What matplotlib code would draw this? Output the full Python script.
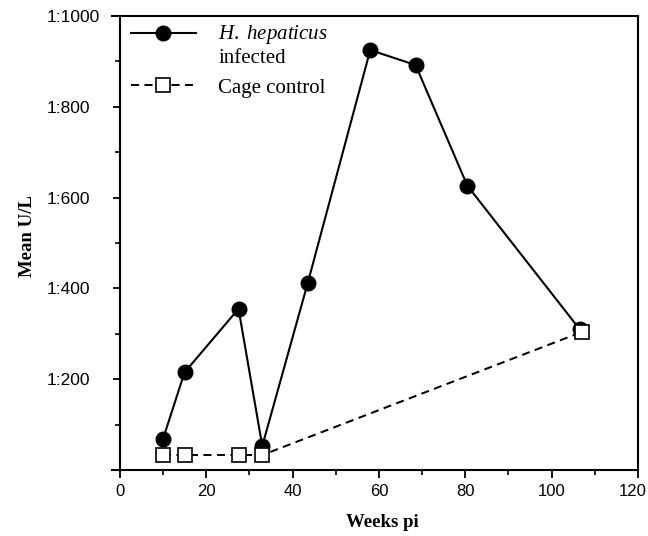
"""
Mean U/L over weeks post infection: H. hepaticus infected vs cage control
"""
import matplotlib
matplotlib.use('Agg')
import matplotlib.pyplot as plt
import matplotlib.transforms as mtransforms
import numpy as np
from matplotlib.ticker import FixedLocator
from matplotlib.legend_handler import HandlerLine2D

plt.rcParams['font.family'] = ['Liberation Sans', 'DejaVu Sans']
plt.rcParams['mathtext.fontset'] = 'custom'
plt.rcParams['mathtext.it'] = 'Liberation Serif:italic'
plt.rcParams['mathtext.rm'] = 'Liberation Serif'

# ── data ────────────────────────────────────────────
inf_weeks = [10, 15, 27.5, 33, 43.5, 58, 68.5, 80.5, 106.5]
inf_ul    = [68, 215, 355, 53, 411, 925, 892, 626, 310]

ctl_weeks = [10, 15, 27.5, 33, 107]
ctl_ul    = [33, 33, 33, 33, 304]

x_ticks  = [0, 20, 40, 60, 80, 100, 120]
y_ticks  = [200, 400, 600, 800, 1000]
y_labels = ['1:200', '1:400', '1:600', '1:800', '1:1000']


class TopLineHandler(HandlerLine2D):
    """legend handle aligned with first line of a two-line label"""
    def __init__(self, shift=0, **kw):
        super().__init__(**kw)
        self.shift = shift

    def create_artists(self, legend, orig_handle, xdescent, ydescent,
                       width, height, fontsize, trans):
        arts = super().create_artists(legend, orig_handle, xdescent, ydescent,
                                      width, height, fontsize, trans)
        for a in arts:
            a.set_ydata(np.asarray(a.get_ydata(), dtype=float) + self.shift)
        return arts


fig = plt.figure(figsize=(6.48, 5.36), dpi=100, facecolor='white')
ax = fig.add_axes([112 / 648, 66 / 536, 526 / 648, 454 / 536])

l_ctl, = ax.plot(ctl_weeks, ctl_ul, color='black', lw=1.45, ls=(0, (4, 2.7)),
                 marker='s', ms=10.5, mfc='white', mec='black', mew=1.2,
                 zorder=3)
l_inf, = ax.plot(inf_weeks, inf_ul, color='black', lw=1.5, ls='-',
                 marker='o', ms=10.5, mfc='black', mec='black', zorder=2)

ax.set_xlim(-1.8, 120)
ax.set_ylim(0, 1000)
ax.spines['left'].set_position(('data', 0))
for s in ax.spines.values():
    s.set_linewidth(1.5)

ax.xaxis.set_major_locator(FixedLocator(x_ticks))
ax.xaxis.set_minor_locator(FixedLocator([10, 30, 50, 70, 90, 110]))
ax.yaxis.set_major_locator(FixedLocator(y_ticks))
ax.yaxis.set_minor_locator(FixedLocator([100, 300, 500, 700, 900]))
ax.set_yticklabels(y_labels)

ax.tick_params(axis='x', which='major', direction='out', length=5.8, width=1.3,
               labelsize=12, pad=4.5)
ax.tick_params(axis='y', which='major', direction='out', length=5, width=1.3,
               labelsize=12.5, pad=48)
ax.tick_params(axis='both', which='minor', direction='out', length=3.5, width=1.2)
for lbl in ax.get_yticklabels():
    lbl.set_horizontalalignment('left')

# 마지막 x 라벨(120)이 잘리지 않게 살짝 왼쪽으로
last = ax.xaxis.get_major_ticks()[-1].label1
last.set_transform(last.get_transform() +
                   mtransforms.ScaledTranslation(-4 / 72, 0, fig.dpi_scale_trans))

ax.set_xlabel('Weeks pi', family='Liberation Serif', fontweight='bold',
              fontsize=13.5, va='top')
ax.xaxis.set_label_coords(0.513, -0.097)
ax.set_ylabel('Mean U/L', family='Liberation Serif', fontweight='bold',
              fontsize=13.5)
ax.yaxis.set_label_coords(-0.145, 0.515)

leg = ax.legend([l_inf, l_ctl],
                [r'$\mathit{H.\ hepaticus}$' + '\ninfected', 'Cage control'],
                loc='upper left', bbox_to_anchor=(0.036, 0.985),
                frameon=False, borderaxespad=0, borderpad=0,
                prop={'family': 'Liberation Serif', 'size': 15},
                handlelength=3.1, handletextpad=1.1, labelspacing=0.5,
                handler_map={l_inf: TopLineHandler(shift=8.5)})

fig.savefig('out.png', dpi=100, facecolor='white')
